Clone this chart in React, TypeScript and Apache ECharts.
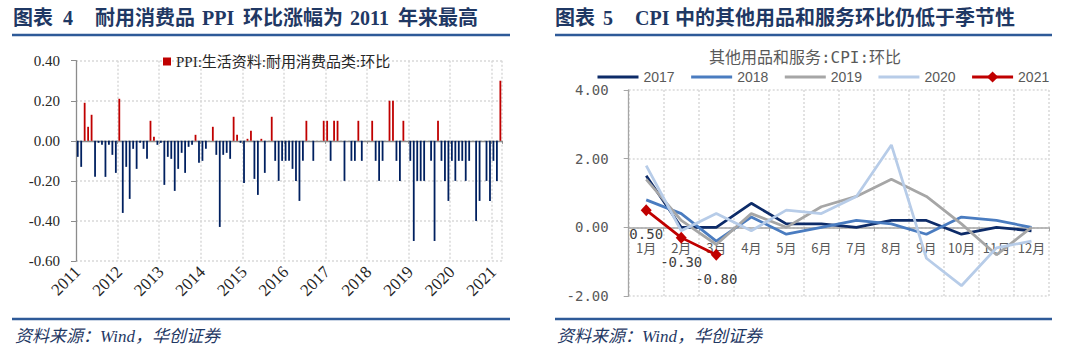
import React, { useEffect, useRef } from "react";
import * as echarts from "echarts";

// ---------- Left chart data: PPI 生活资料 耐用消费品类 环比 (monthly, 2011-01 .. 2021-03)
const years = ["2011", "2012", "2013", "2014", "2015", "2016", "2017", "2018", "2019", "2020", "2021"];
const ppi2011 = [-0.08, -0.13, 0.19, 0.07, 0.13, -0.18, -0.01, -0.02, -0.18, -0.02, -0.07, -0.16];
const ppi2012 = [0.21, -0.36, -0.13, -0.29, -0.04, -0.14, -0.01, -0.04, -0.09, 0.1, 0.02, -0.02];
const ppi2013 = [-0.01, -0.22, -0.08, -0.09, -0.25, -0.14, -0.06, -0.16, -0.03, -0.02, 0.03, -0.11];
const ppi2014 = [-0.1, -0.04, 0.0, 0.07, -0.07, -0.43, -0.07, -0.06, -0.09, 0.12, 0.03, -0.01];
const ppi2015 = [-0.21, 0.01, 0.05, -0.19, -0.27, 0.01, -0.16, 0.0, 0.12, -0.1, -0.2, -0.1];
const ppi2016 = [-0.1, -0.1, -0.14, -0.2, -0.3, -0.1, 0.1, 0.0, -0.1, 0.0, 0.0, 0.1];
const ppi2017 = [0.1, -0.1, 0.1, 0.1, 0.0, -0.2, 0.0, -0.1, -0.1, 0.1, -0.1, 0.0];
const ppi2018 = [0.0, 0.1, -0.1, -0.2, -0.1, 0.0, 0.2, 0.2, -0.1, -0.2, 0.1, 0.0];
const ppi2019 = [-0.1, -0.5, -0.2, -0.2, -0.2, 0.0, -0.1, -0.5, 0.1, -0.1, -0.2, -0.3];
const ppi2020 = [-0.1, -0.2, -0.1, -0.1, -0.2, -0.1, 0.0, -0.4, -0.3, 0.0, -0.2, -0.3];
const ppi2021 = [-0.1, -0.2, 0.3];
const ppiName = "PPI:生活资料:耐用消费品类:环比";

// ---------- Right chart data: 其他用品和服务 CPI 环比
const months = ["1月", "2月", "3月", "4月", "5月", "6月", "7月", "8月", "9月", "10月", "11月", "12月"];
const cpi2017 = [1.5, 0.0, 0.0, 0.7, 0.1, 0.1, 0.0, 0.2, 0.2, -0.2, 0.0, -0.1];
const cpi2018 = [0.8, 0.4, -0.4, 0.3, -0.2, 0.0, 0.2, 0.1, -0.2, 0.3, 0.2, 0.0];
const cpi2019 = [1.4, 0.2, -0.5, 0.4, 0.0, 0.6, 0.9, 1.4, 0.9, 0.1, -0.8, 0.0];
const cpi2020 = [1.8, -0.1, 0.4, -0.1, 0.5, 0.4, 0.9, 2.4, -0.9, -1.7, -0.6, -0.4];
const cpi2021 = [0.5, -0.3, -0.8];
const cpiTitle = "其他用品和服务:CPI:环比";

const leftTitle = [
  { t: "图表", x: 13 },
  { t: "4", x: 63 },
  { t: "耐用消费品", x: 95 },
  { t: "PPI", x: 202 },
  { t: "环比涨幅为", x: 243 },
  { t: "2011", x: 350 },
  { t: "年来最高", x: 398 },
];
const rightTitle = [
  { t: "图表", x: 555 },
  { t: "5", x: 603 },
  { t: "CPI", x: 635 },
  { t: "中的其他用品和服务环比仍低于季节性", x: 675 },
];
const sourceText = "资料来源：Wind，华创证券";

const SERIF = '"Liberation Serif", "Times New Roman", "Noto Sans CJK SC", serif';
const MONO = '"DejaVu Sans Mono", "Noto Sans CJK SC", monospace';
const CJK = '"Noto Sans CJK SC", "Liberation Sans", sans-serif';
const NAVY_TXT = "#1F3864";
const RULE = "#2E5A98";
const GRID_LINE = { type: [2, 2] as any, color: "#D9D9D9", width: 1.5 };
const AXIS_GRAY = "#8C8C8C";

export default function App() {
  const ref = useRef<HTMLDivElement>(null);

  useEffect(() => {
    const chart = echarts.init(ref.current!, null, { renderer: "svg" });

    const ppiValues = [
      ...ppi2011, ...ppi2012, ...ppi2013, ...ppi2014, ...ppi2015, ...ppi2016,
      ...ppi2017, ...ppi2018, ...ppi2019, ...ppi2020, ...ppi2021,
    ];
    const monthCats: string[] = [];
    for (const y of years) {
      for (let m = 1; m <= 12; m++) {
        if (monthCats.length < ppiValues.length) monthCats.push(y + "-" + m);
      }
    }

    const rightTop = 90;
    const rightHeight = 206;
    const rightMin = -2;
    const rightMax = 4;
    // distance from the bottom of the plot to the zero line, so the category axis sits on 0
    const zeroOffset = (rightHeight * (0 - rightMin)) / (rightMax - rightMin);

    const titleText = (segs: { t: string; x: number }[]) =>
      segs.map((s) => ({
        type: "text",
        x: s.x,
        y: 18,
        style: {
          text: s.t,
          fill: NAVY_TXT,
          fontSize: 20,
          fontWeight: "bold",
          fontFamily: SERIF,
          verticalAlign: "middle",
        },
      }));

    const lineSeries = (name: string, data: number[], color: string) => ({
      name, type: "line", xAxisIndex: 2, yAxisIndex: 1, data,
      symbol: "none",
      lineStyle: { width: 2.75, color }, itemStyle: { color },
    });

    const option: any = {
      animation: false,
      backgroundColor: "#ffffff",
      graphic: [
        ...titleText(leftTitle),
        ...titleText(rightTitle),
        { type: "line", shape: { x1: 12, y1: 35, x2: 510, y2: 35 }, style: { stroke: RULE, lineWidth: 2.5 } },
        { type: "line", shape: { x1: 555, y1: 35, x2: 1052, y2: 35 }, style: { stroke: RULE, lineWidth: 2.5 } },
        { type: "line", shape: { x1: 12, y1: 319, x2: 510, y2: 319 }, style: { stroke: RULE, lineWidth: 2.5 } },
        { type: "line", shape: { x1: 555, y1: 319, x2: 1052, y2: 319 }, style: { stroke: RULE, lineWidth: 2.5 } },
        {
          type: "text", x: 15, y: 336,
          style: { text: sourceText, fill: NAVY_TXT, fontSize: 17, fontStyle: "italic", fontFamily: SERIF, verticalAlign: "middle" },
        },
        {
          type: "text", x: 557, y: 336,
          style: { text: sourceText, fill: NAVY_TXT, fontSize: 17, fontStyle: "italic", fontFamily: SERIF, verticalAlign: "middle" },
        },
        {
          type: "text", x: 805, y: 57,
          style: { text: cpiTitle, fill: "#595959", fontSize: 16, fontFamily: MONO, align: "center", verticalAlign: "middle" },
        },
      ],
      legend: [
        {
          left: 158, top: 49, itemWidth: 8, itemHeight: 8, icon: "rect",
          data: [{ name: ppiName, itemStyle: { color: "#C00000" } }],
          textStyle: { fontFamily: SERIF, fontSize: 15, color: "#262626" },
          selectedMode: false,
        },
        {
          left: 591, top: 65, itemWidth: 41, itemHeight: 14, itemGap: 15,
          lineStyle: { width: 3 },
          data: [
            { name: "2017", itemStyle: { opacity: 0 } },
            { name: "2018", itemStyle: { opacity: 0 } },
            { name: "2019", itemStyle: { opacity: 0 } },
            { name: "2020", itemStyle: { opacity: 0 } },
            { name: "2021" },
          ],
          textStyle: { fontFamily: '"Liberation Sans", Arial, sans-serif', fontSize: 14, color: "#595959" },
          selectedMode: false,
        },
      ],
      grid: [
        { left: 76, top: 60.7, width: 426.1, height: 200.3, outerBoundsMode: "none" },
        { left: 628.7, top: rightTop, width: 420.3, height: rightHeight, outerBoundsMode: "none" },
      ],
      xAxis: [
        {
          type: "category", gridIndex: 0, data: monthCats, boundaryGap: true,
          axisLine: { show: false, onZero: false }, axisTick: { show: false },
          axisLabel: {
            interval: (i: number) => i % 12 === 0,
            rotate: 45, margin: 8,
            formatter: (v: string) => v.slice(0, 4),
            fontFamily: SERIF, fontSize: 17, color: "#262626",
          },
          splitLine: { show: true, interval: (i: number) => i % 12 === 0 && i > 0, lineStyle: GRID_LINE },
        },
        {
          type: "category", gridIndex: 0, data: monthCats, boundaryGap: true, position: "bottom",
          axisLine: { show: true, onZero: true, lineStyle: { color: AXIS_GRAY, width: 1.3 } },
          axisTick: { show: true, interval: (i: number) => i % 12 === 0, length: 3, lineStyle: { color: AXIS_GRAY } },
          axisLabel: { show: false },
          splitLine: { show: false },
        },
        {
          type: "category", gridIndex: 1, data: months, boundaryGap: true, position: "bottom",
          offset: -zeroOffset,
          axisLine: { show: true, onZero: false, lineStyle: { color: "#A6A6A6", width: 1.5 } },
          axisTick: { show: true, length: 4, lineStyle: { color: "#A6A6A6" } },
          axisLabel: { interval: 0, margin: 13.5, fontFamily: CJK, fontSize: 13, color: "#595959" },
          splitLine: { show: true, interval: 0, lineStyle: GRID_LINE },
        },
      ],
      yAxis: [
        {
          type: "value", gridIndex: 0, min: -0.6, max: 0.4, interval: 0.2,
          axisLine: { show: true, lineStyle: { color: AXIS_GRAY, width: 1.3 } },
          axisTick: { show: true, length: 5, lineStyle: { color: AXIS_GRAY } },
          axisLabel: { margin: 16, formatter: (v: number) => v.toFixed(2), fontFamily: SERIF, fontSize: 15, color: "#262626" },
          splitLine: { show: true, lineStyle: GRID_LINE },
        },
        {
          type: "value", gridIndex: 1, min: rightMin, max: rightMax, interval: 2,
          axisLine: { show: true, onZero: false, lineStyle: { color: "#A6A6A6", width: 1.3 } },
          axisTick: { show: true, length: 5, lineStyle: { color: "#A6A6A6" } },
          axisLabel: { margin: 20, formatter: (v: number) => v.toFixed(2), fontFamily: MONO, fontSize: 14, color: "#595959" },
          splitLine: { show: true, lineStyle: GRID_LINE },
        },
      ],
      series: [
        {
          name: ppiName, type: "bar", xAxisIndex: 0, yAxisIndex: 0, data: ppiValues, barWidth: 1.8,
          itemStyle: { color: (p: any) => (p.value >= 0 ? "#C00000" : "#002060") },
        },
        lineSeries("2017", cpi2017, "#0D2B68"),
        lineSeries("2018", cpi2018, "#4A7CC0"),
        lineSeries("2019", cpi2019, "#A6A6A6"),
        lineSeries("2020", cpi2020, "#B7CCE8"),
        {
          name: "2021", type: "line", xAxisIndex: 2, yAxisIndex: 1, data: cpi2021,
          symbol: "diamond", symbolSize: [11, 12],
          lineStyle: { width: 2.75, color: "#C00000" }, itemStyle: { color: "#C00000" },
          label: {
            show: true, position: "bottom", distance: 11,
            formatter: (p: any) => Number(p.value).toFixed(2),
            fontFamily: MONO, fontSize: 14, color: "#404040",
          },
        },
      ],
    };

    chart.setOption(option);
    return () => chart.dispose();
  }, []);

  return (
    <div
      ref={ref}
      style={{ position: "absolute", left: 0, top: 0, width: 1080, height: 351, background: "#fff" }}
    />
  );
}
